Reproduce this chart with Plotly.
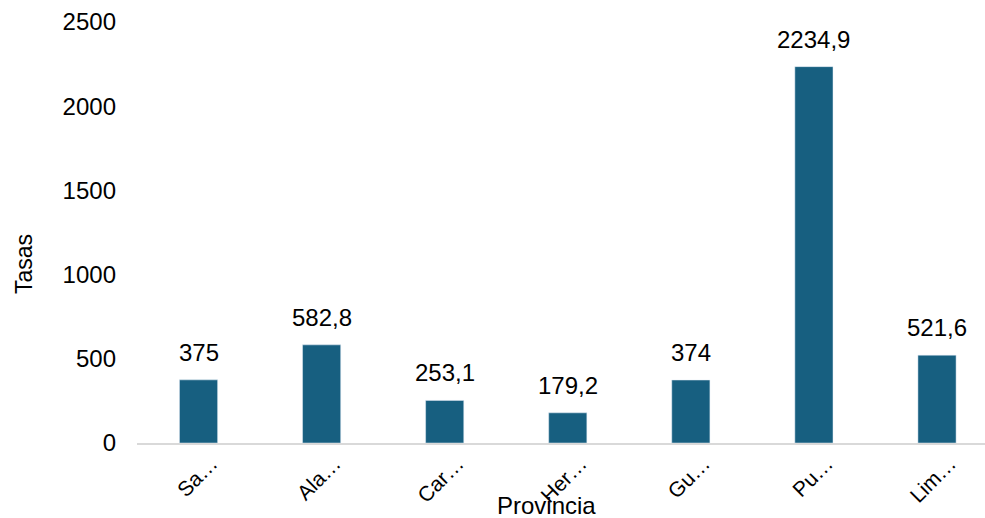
import plotly.graph_objects as go

provincias = ["Sa…", "Ala…", "Car…", "Her…", "Gu…", "Pu…", "Lim…"]
tasas = [375, 582.8, 253.1, 179.2, 374, 2234.9, 521.6]
etiquetas = ["375", "582,8", "253,1", "179,2", "374", "2234,9", "521,6"]

FONT = "Liberation Sans, Arial"
W, H = 985, 518
L, R, T, B = 137, 0, 22, 75
pw, ph = W - L - R, H - T - B

xs = list(range(len(provincias)))
fig = go.Figure(go.Bar(
    x=xs, y=tasas,
    marker=dict(color="#175f80"), width=0.31,
))

anns = []
for xi, v, lab in zip(xs, tasas, etiquetas):
    anns.append(dict(x=xi, y=v, xref="x", yref="y", text=lab, showarrow=False,
                     yanchor="bottom", yshift=12,
                     font=dict(family=FONT, size=24, color="#000000")))
anns.append(dict(text="Provincia", xref="paper", yref="paper",
                 x=(546 - L) / pw, y=(H - B - 505) / ph,
                 xanchor="center", yanchor="middle", showarrow=False,
                 font=dict(family=FONT, size=24, color="#000000")))
anns.append(dict(text="Tasas", xref="paper", yref="paper", textangle=-90,
                 x=(24 - L) / pw, y=(H - B - 264) / ph,
                 xanchor="center", yanchor="middle", showarrow=False,
                 font=dict(family=FONT, size=23, color="#000000")))

fig.update_layout(
    width=W, height=H,
    margin=dict(l=L, r=R, t=T, b=B),
    paper_bgcolor="white", plot_bgcolor="white",
    font=dict(family=FONT, size=24, color="#000000"),
    showlegend=False,
    annotations=anns,
)
fig.update_xaxes(
    tickmode="array", tickvals=xs, ticktext=provincias,
    tickangle=-45, range=[-0.5, 6.39], automargin=False,
    showline=True, linecolor="#d9d9d9", linewidth=2, showgrid=False, zeroline=False,
    tickfont=dict(size=21), ticklabelshift=13, ticklabelstandoff=-2,
)
fig.update_yaxes(
    range=[0, 2500], tickvals=[0, 500, 1000, 1500, 2000, 2500],
    showgrid=False, zeroline=False, showline=False, automargin=False,
    ticklabelstandoff=20,
    tickfont=dict(size=24),
)
fig.write_html("out.html", config={"displayModeBar": False},
               post_script="document.body.style.margin='0';")
